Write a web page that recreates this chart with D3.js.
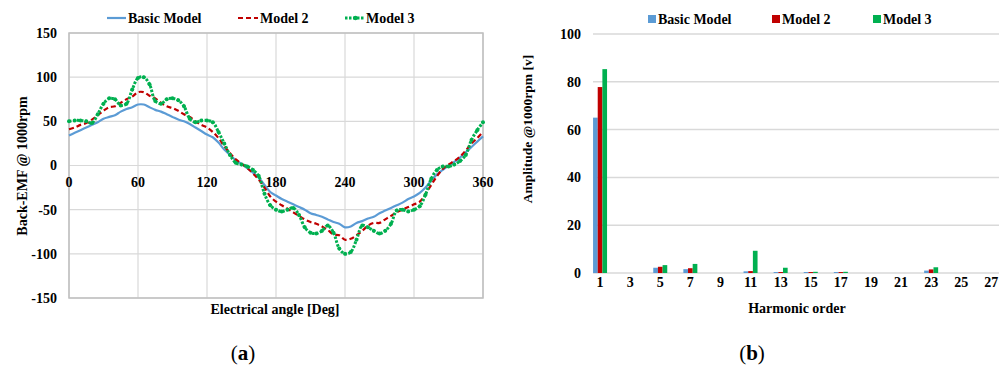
<!DOCTYPE html>
<html>
<head>
<meta charset="utf-8">
<script src="https://cdn.jsdelivr.net/npm/d3@7"></script>
<style>
  body { margin: 0; background: #fff; }
  text { font-family: "Liberation Serif", "Times New Roman", serif; font-weight: bold; fill: #000; }
</style>
</head>
<body>
<svg id="fig" width="1008" height="371"></svg>
<script>
// Data

// (a) Back-EMF versus electrical angle
const angles = [0, 5, 10, 15, 20, 25, 30, 35, 40, 45, 50, 55, 60, 65, 70, 75, 80, 85, 90, 95,
  100, 105, 110, 115, 120, 125, 130, 135, 140, 145, 150, 155, 160, 165, 170, 175, 180, 185, 190, 195,
  200, 205, 210, 215, 220, 225, 230, 235, 240, 245, 250, 255, 260, 265, 270, 275, 280, 285, 290, 295,
  300, 305, 310, 315, 320, 325, 330, 335, 340, 345, 350, 355, 360];
const basicEmf = [34, 37, 40, 43, 46, 49, 53, 55, 57, 61, 64, 66, 69, 69, 66, 63, 61, 58, 55, 52,
  50, 47, 43, 39, 35, 32, 26, 18, 12, 6, 2, -3, -8, -14, -22, -30, -34, -38, -41, -44,
  -47, -50, -54, -56, -58, -61, -64, -66, -70, -69, -65, -63, -60, -58, -54, -51, -48, -45, -42, -38,
  -35, -31, -25, -17, -10, -5, 0, 4, 9, 15, 21, 27, 33];
const model2Emf = [41, 43, 46, 48, 52, 57, 62, 66, 67, 71, 75, 78, 83, 83, 79, 76, 71, 67, 65, 62,
  58, 55, 50, 46, 43, 38, 31, 22, 14, 7, 2, -3, -9, -16, -25, -35, -41, -45, -49, -53,
  -57, -61, -64, -66, -69, -73, -78, -79, -84, -83, -79, -74, -68, -65, -65, -61, -57, -53, -50, -47,
  -44, -41, -32, -22, -12, -4, 1, 5, 10, 17, 25, 31, 38];
const model3Emf = [50, 51, 51, 50, 48, 58, 70, 76, 75, 68, 70, 86, 99, 100, 92, 73, 70, 75, 76, 74,
  67, 53, 49, 51, 51, 49, 38, 25, 12, 3, 1, -1, -5, -12, -32, -45, -50, -52, -50, -48,
  -56, -70, -76, -77, -74, -68, -76, -94, -100, -98, -84, -68, -70, -74, -77, -74, -66, -51, -50, -52,
  -50, -46, -33, -15, -5, -1, -1, 1, 5, 12, 29, 40, 49];
const angleTicks = [0, 60, 120, 180, 240, 300, 360];
const emfTicks = [-150, -100, -50, 0, 50, 100, 150];

// (b) Harmonic amplitudes
const orders = ["1", "3", "5", "7", "9", "11", "13", "15", "17", "19", "21", "23", "25", "27"];
const basicAmp  = [65.0, 0, 2.2, 1.6, 0, 0.7, 0.4, 0.4, 0.4, 0, 0, 1.0, 0, 0];
const model2Amp = [77.8, 0, 2.6, 2.0, 0, 0.8, 0.4, 0.4, 0.4, 0, 0, 1.5, 0, 0];
const model3Amp = [85.3, 0, 3.3, 3.8, 0, 9.3, 2.2, 0.5, 0.5, 0, 0, 2.4, 0, 0];
const ampTicks = [0, 20, 40, 60, 80, 100];

const seriesNames = ["Basic Model", "Model 2", "Model 3"];
const colors = ["#5b9bd5", "#c00000", "#00b050"];

const svg = d3.select("#fig");
const gridColor = "#d9d9d9";

// ---------------- Chart (a) ----------------
const xA = d3.scaleLinear().domain([0, 360]).range([69, 483]);
const yA = d3.scaleLinear().domain([-150, 150]).range([298, 33]);

const gA = svg.append("g");

// vertical and horizontal gridlines
gA.selectAll(".vgrid")
  .data(angleTicks)
  .join("line")
    .attr("x1", d => xA(d)).attr("x2", d => xA(d))
    .attr("y1", yA(150)).attr("y2", yA(-150))
    .attr("stroke", gridColor).attr("stroke-width", 1.2);
gA.selectAll(".hgrid")
  .data(emfTicks)
  .join("line")
    .attr("x1", xA(0)).attr("x2", xA(360))
    .attr("y1", d => yA(d)).attr("y2", d => yA(d))
    .attr("stroke", gridColor).attr("stroke-width", 1.2);

// plot border
gA.append("rect")
  .attr("x", xA(0)).attr("y", yA(150))
  .attr("width", xA(360) - xA(0)).attr("height", yA(-150) - yA(150))
  .attr("fill", "none").attr("stroke", "#bfbfbf").attr("stroke-width", 1.5);

// y tick labels
gA.selectAll(".ylab")
  .data(emfTicks)
  .join("text")
    .attr("x", 57).attr("y", d => yA(d))
    .attr("dy", "0.35em")
    .attr("text-anchor", "end")
    .style("font-size", "14px")
    .text(d => d);

// x tick labels sit just under the zero line
gA.selectAll(".xlab")
  .data(angleTicks)
  .join("text")
    .attr("x", d => xA(d)).attr("y", yA(0) + 17)
    .attr("dy", "0.35em")
    .attr("text-anchor", "middle")
    .style("font-size", "14px")
    .text(d => d);

// axis titles
gA.append("text")
  .attr("transform", "translate(22,166) rotate(-90)")
  .attr("text-anchor", "middle")
  .attr("dy", "0.35em")
  .style("font-size", "14px")
  .text("Back-EMF @ 1000rpm");
gA.append("text")
  .attr("x", 275).attr("y", 309)
  .attr("dy", "0.35em")
  .attr("text-anchor", "middle")
  .style("font-size", "14px")
  .text("Electrical angle [Deg]");

// curves
const emfSeries = [basicEmf, model2Emf, model3Emf];
const dashes = [null, "5,3", "2.5,1.5"];
const widths = [2.2, 2.2, 3];

const emfLine = d3.line()
  .x((d, i) => xA(angles[i]))
  .y(d => yA(d))
  .curve(d3.curveCatmullRom.alpha(0.5));

emfSeries.forEach((vals, k) => {
  gA.append("path")
    .datum(vals)
    .attr("fill", "none")
    .attr("stroke", colors[k])
    .attr("stroke-width", widths[k])
    .attr("stroke-dasharray", dashes[k])
    .attr("d", emfLine);
});

// markers on Model 3
gA.selectAll(".m3")
  .data(model3Emf)
  .join("circle")
    .attr("cx", (d, i) => xA(angles[i]))
    .attr("cy", d => yA(d))
    .attr("r", 2)
    .attr("fill", colors[2]);

// legend (a)
const legA = [{ x: 107, tx: 128 }, { x: 238, tx: 260 }, { x: 345, tx: 366 }];
legA.forEach((p, k) => {
  gA.append("line")
    .attr("x1", p.x).attr("x2", p.tx - 2)
    .attr("y1", 18).attr("y2", 18)
    .attr("stroke", colors[k])
    .attr("stroke-width", widths[k])
    .attr("stroke-dasharray", dashes[k]);
  if (k === 2) {
    gA.append("circle").attr("cx", (p.x + p.tx) / 2).attr("cy", 18).attr("r", 2.2).attr("fill", colors[2]);
  }
  gA.append("text")
    .attr("x", p.tx).attr("y", 18)
    .attr("dy", "0.35em")
    .style("font-size", "14px")
    .text(seriesNames[k]);
});

// ---------------- Chart (b) ----------------
const xB = d3.scaleBand().domain(orders).range([585, 1006.4]);
const xInner = d3.scaleBand().domain(seriesNames).range([0, 14]);
const yB = d3.scaleLinear().domain([0, 100]).range([273, 34]);

const gB = svg.append("g");

gB.selectAll(".hgridB")
  .data(ampTicks)
  .join("line")
    .attr("x1", 593).attr("x2", 999)
    .attr("y1", d => yB(d)).attr("y2", d => yB(d))
    .attr("stroke", gridColor).attr("stroke-width", 1.5);

gB.selectAll(".ylabB")
  .data(ampTicks)
  .join("text")
    .attr("x", 581).attr("y", d => yB(d))
    .attr("dy", "0.35em")
    .attr("text-anchor", "end")
    .style("font-size", "14px")
    .text(d => d);

gB.selectAll(".xlabB")
  .data(orders)
  .join("text")
    .attr("x", d => xB(d) + xB.bandwidth() / 2).attr("y", 282)
    .attr("dy", "0.35em")
    .attr("text-anchor", "middle")
    .style("font-size", "14px")
    .text(d => d);

// bars
const ampSeries = [basicAmp, model2Amp, model3Amp];
ampSeries.forEach((vals, k) => {
  gB.selectAll(".bar" + k)
    .data(vals)
    .join("rect")
      .attr("x", (d, i) => xB(orders[i]) + xB.bandwidth() / 2 - 7 + xInner(seriesNames[k]))
      .attr("y", d => yB(d))
      .attr("width", xInner.bandwidth())
      .attr("height", d => yB(0) - yB(d))
      .attr("fill", colors[k]);
});

// axis titles
gB.append("text")
  .attr("transform", "translate(527,129) rotate(-90)")
  .attr("text-anchor", "middle")
  .attr("dy", "0.35em")
  .style("font-size", "13.5px")
  .text("Amplitude @1000rpm [v]");
gB.append("text")
  .attr("x", 797).attr("y", 308)
  .attr("dy", "0.35em")
  .attr("text-anchor", "middle")
  .style("font-size", "14px")
  .text("Harmonic order");

// legend (b)
const legB = [648, 772, 873];
legB.forEach((x, k) => {
  gB.append("rect")
    .attr("x", x).attr("y", 15)
    .attr("width", 8).attr("height", 8)
    .attr("fill", colors[k]);
  gB.append("text")
    .attr("x", x + 10).attr("y", 19)
    .attr("dy", "0.35em")
    .style("font-size", "14px")
    .text(seriesNames[k]);
});

// ---------------- Captions ----------------
[{ x: 243, l: "a" }, { x: 752, l: "b" }].forEach(c => {
  const t = svg.append("text")
    .attr("x", c.x).attr("y", 360)
    .attr("text-anchor", "middle")
    .style("font-size", "21px")
    .style("font-weight", "normal");
  t.append("tspan").text("(");
  t.append("tspan").style("font-weight", "bold").text(c.l);
  t.append("tspan").text(")");
});
</script>
</body>
</html>
